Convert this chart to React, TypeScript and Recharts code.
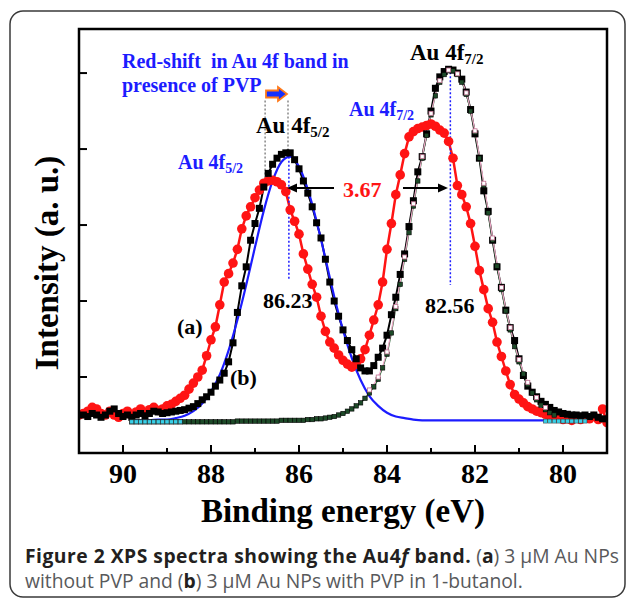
import React from 'react';
import { LineChart, Line, XAxis, YAxis, ReferenceLine } from 'recharts';

// XPS Au 4f spectra, binding energy grid START - i*STEP (eV)
const RED_START = 91.0;
const RED_STEP = 0.1;
// (a) 3 uM Au NPs without PVP
const spectrumA = [
  0.5, 0.52, 0.55, 0.6, 0.58, 0.52, 0.5, 0.55, 0.5, 0.47,
  0.52, 0.55, 0.5, 0.54, 0.58, 0.53, 0.57, 0.6, 0.56, 0.58,
  0.62, 0.64, 0.68, 0.72, 0.76, 0.84, 0.92, 1.0, 1.09, 1.28,
  1.49, 1.66, 1.95, 2.25, 2.36, 2.5, 2.68, 2.95, 3.12, 3.24,
  3.36, 3.46, 3.55, 3.58, 3.59, 3.57, 3.53, 3.44, 3.2, 3.05,
  2.88, 2.62, 2.42, 2.22, 2.05, 1.8, 1.6, 1.46, 1.38, 1.29,
  1.22, 1.17, 1.13, 1.17, 1.24, 1.36, 1.55, 1.75, 1.95, 2.25,
  2.68, 3.02, 3.4, 3.66, 3.94, 4.16, 4.23, 4.27, 4.29, 4.31,
  4.33, 4.3, 4.25, 4.21, 4.1, 3.88, 3.52, 3.4, 3.24, 3.02,
  2.72, 2.4, 2.15, 1.9, 1.72, 1.46, 1.27, 1.08, 0.9, 0.77,
  0.71, 0.66, 0.61, 0.58, 0.55, 0.53, 0.51, 0.49, 0.47, 0.46,
  0.44, 0.45, 0.43, 0.46, 0.44, 0.47, 0.45, 0.48, 0.44, 0.58,
  0.4,
];

const BLACK_START = 90.9;
const BLACK_STEP = 0.1;
// (b) 3 uM Au NPs with PVP
const spectrumB = [
  0.5, 0.48, 0.52, 0.5, 0.47, 0.5, 0.55, 0.58, 0.52, 0.48,
  0.5, 0.47, 0.5, 0.52, 0.49, 0.52, 0.55, 0.54, 0.52, 0.53,
  0.54, 0.55, 0.56, 0.57, 0.59, 0.61, 0.65, 0.7, 0.74, 0.8,
  0.88, 0.96, 1.05, 1.2, 1.45, 1.85, 2.2, 2.45, 2.8, 3.02,
  3.22, 3.5, 3.68, 3.8, 3.88, 3.93, 3.95, 3.95, 3.86, 3.74,
  3.58, 3.42, 3.24, 3.03, 2.83, 2.55, 2.25, 2.0, 1.8, 1.62,
  1.48, 1.36, 1.24, 1.12, 1.08, 1.08, 1.15, 1.26, 1.38, 1.55,
  1.82, 2.05, 2.35, 2.62, 2.98, 3.32, 3.7, 3.9, 4.2, 4.5,
  4.8, 4.95, 5.02, 5.05, 5.04, 5.0, 4.92, 4.75, 4.52, 4.2,
  3.88, 3.45, 3.18, 2.8, 2.45, 2.18, 1.88, 1.65, 1.48, 1.24,
  1.02, 0.88, 0.8, 0.74, 0.68, 0.64, 0.6, 0.56, 0.54, 0.52,
  0.51, 0.5, 0.5, 0.49, 0.5, 0.48, 0.5, 0.47, 0.45,
];

// fitted Au 4f5/2 component
const FIT52_START = 89.8;
const FIT52_STEP = 0.2;
const fit52 = [
  0.43, 0.43, 0.43, 0.44, 0.44, 0.46, 0.49, 0.55, 0.65, 0.81,
  1.03, 1.35, 1.75, 2.21, 2.71, 3.19, 3.58, 3.83, 3.9, 3.77,
  3.47, 3.05, 2.56, 2.06, 1.62, 1.25, 0.96, 0.75, 0.62, 0.53,
  0.48, 0.46, 0.44, 0.43, 0.43, 0.43, 0.43, 0.43, 0.43, 0.43,
  0.43, 0.43, 0.43, 0.43, 0.43, 0.43, 0.43, 0.43,
];

// fitted Au 4f7/2 component
const FIT72_START = 89.8;
const FIT72_STEP = 0.1;
const fit72 = [
  0.41, 0.41, 0.41, 0.41, 0.41, 0.41, 0.41, 0.41, 0.41, 0.41,
  0.41, 0.41, 0.41, 0.41, 0.41, 0.41, 0.41, 0.41, 0.41, 0.41,
  0.41, 0.41, 0.41, 0.41, 0.42, 0.42, 0.42, 0.42, 0.42, 0.42,
  0.42, 0.42, 0.42, 0.42, 0.43, 0.43, 0.43, 0.43, 0.43, 0.43,
  0.44, 0.44, 0.45, 0.45, 0.46, 0.47, 0.48, 0.5, 0.52,
  0.55, 0.58, 0.62, 0.66, 0.72, 0.79, 0.87, 0.97, 1.12, 1.3,
  1.58, 1.9, 2.22, 2.55, 2.9, 3.25, 3.58, 3.88, 4.18, 4.45,
  4.7, 4.88, 4.98, 5.03, 5.03, 4.98, 4.88, 4.72, 4.5, 4.22,
  3.88, 3.52, 3.16, 2.8, 2.46, 2.15, 1.87, 1.62, 1.4, 1.2,
  1.04, 0.9, 0.79, 0.7, 0.63, 0.57, 0.53, 0.5,
];

// envelope over the 4f7/2 peak
const ENV_START = 84.4;
const ENV_STEP = 0.2;
const envelope = [
  0.83, 1.0, 1.33, 1.93, 2.58, 3.28, 3.9, 4.47, 4.9, 5.04,
  4.99, 4.74, 4.24, 3.55, 2.83, 2.18, 1.65, 1.23, 0.93, 0.73,
  0.6,
];

// background ends
const BG_LEFT_START = 89.8;
const bgLeft = [0.41, 0.41, 0.41, 0.41, 0.41, 0.41, 0.41, 0.41, 0.41, 0.41, 0.41, 0.41];
const BG_RIGHT_START = 80.4;
const bgRight = [0.42, 0.42, 0.42, 0.42, 0.42, 0.42, 0.42, 0.42, 0.42, 0.42];
const BG_STEP = 0.1;

const xTicks = [80, 81, 82, 83, 84, 85, 86, 87, 88, 89, 90];
const yTicks = [1, 2, 3, 4, 5];

const toPoints = (start: number, step: number, ys: number[]) =>
  ys.map((y, i) => ({ x: Math.round((start - i * step) * 100) / 100, y }));

const W = 629;
const H = 601;
const PLOT_LEFT = 79;
const PLOT_TOP = 29;
const PLOT_RIGHT = 607;
const PLOT_BOTTOM = 453;
const X_AXIS_H = 40;
const Y_AXIS_W = 20;
const SERIF = '"Liberation Serif", "Times New Roman", serif';
const BLUE = '#1c1cff';

const XTick = (props: any) => {
  const { x, payload } = props;
  const v = payload.value;
  const major = v % 2 === 0;
  return (
    <g>
      <line x1={x} x2={x} y1={PLOT_BOTTOM} y2={PLOT_BOTTOM - (major ? 8 : 5)} stroke="#000" strokeWidth={2} />
      {major && (
        <text x={x} y={483} textAnchor="middle" fontFamily={SERIF} fontWeight="bold" fontSize={28} fill="#000">
          {v}
        </text>
      )}
    </g>
  );
};

const YTick = (props: any) => (
  <line x1={PLOT_LEFT} x2={PLOT_LEFT + 8} y1={props.y} y2={props.y} stroke="#000" strokeWidth={2} />
);

const redDot = (p: any) =>
  p.cy == null ? null : <circle key={`r${p.index}`} cx={p.cx} cy={p.cy} r={4.8} fill="#ff1414" />;
const blackDot = (p: any) =>
  p.cy == null ? null : <rect key={`b${p.index}`} x={p.cx - 3.5} y={p.cy - 3.5} width={7} height={7} fill="#000" />;
const greenDot = (p: any) =>
  p.cy == null ? null : (
    <rect key={`g${p.index}`} x={p.cx - 2.2} y={p.cy - 2.2} width={4.4} height={4.4} fill="#1d4a28" stroke="#000" strokeWidth={0.6} />
  );
const pinkDot = (p: any) =>
  p.cy == null ? null : (
    <rect key={`p${p.index}`} x={p.cx - 2} y={p.cy - 2} width={4} height={4} fill="#fff" stroke="#c07090" strokeWidth={0.8} />
  );
const bgDot = (p: any) =>
  p.cy == null ? null : (
    <rect key={`c${p.index}`} x={p.cx - 2} y={p.cy - 2} width={4} height={4} fill="#38d0e8" stroke="#333" strokeWidth={0.5} />
  );

function Sub({ x, y, size, subSize, color, sub }: any) {
  return (
    <text x={x} y={y} fontFamily={SERIF} fontWeight="bold" fontSize={size} fill={color}>
      Au 4f
      <tspan fontSize={subSize} dy={4}>
        {sub}
      </tspan>
    </text>
  );
}

export default function App() {
  const dataA = toPoints(RED_START, RED_STEP, spectrumA);
  const dataB = toPoints(BLACK_START, BLACK_STEP, spectrumB);
  const data52 = toPoints(FIT52_START, FIT52_STEP, fit52);
  const data72 = toPoints(FIT72_START, FIT72_STEP, fit72);
  const dataEnv = toPoints(ENV_START, ENV_STEP, envelope);
  const dataBgL = toPoints(BG_LEFT_START, BG_STEP, bgLeft);
  const dataBgR = toPoints(BG_RIGHT_START, BG_STEP, bgRight);

  return (
    <div style={{ position: 'absolute', left: 0, top: 0, width: W, height: H, background: '#fff' }}>
      <LineChart
        width={W}
        height={H}
        margin={{
          top: PLOT_TOP,
          right: W - PLOT_RIGHT,
          bottom: H - PLOT_BOTTOM - X_AXIS_H,
          left: PLOT_LEFT - Y_AXIS_W,
        }}
      >
        <XAxis
          type="number"
          dataKey="x"
          domain={[79, 91]}
          reversed
          allowDataOverflow
          ticks={xTicks}
          interval={0}
          height={X_AXIS_H}
          axisLine={false}
          tickLine={false}
          tick={XTick}
        />
        <YAxis
          type="number"
          domain={[0, 5.58]}
          allowDataOverflow
          ticks={yTicks}
          interval={0}
          width={Y_AXIS_W}
          axisLine={false}
          tickLine={false}
          tick={YTick}
        />
        <Line data={dataA} dataKey="y" type="linear" stroke="#ff1414" strokeWidth={2.5} dot={redDot} isAnimationActive={false} />
        <Line data={dataB} dataKey="y" type="linear" stroke="#000" strokeWidth={2} dot={blackDot} isAnimationActive={false} />
        <Line data={data72} dataKey="y" type="monotone" stroke="#2f6e3c" strokeWidth={1.2} dot={greenDot} isAnimationActive={false} />
        <Line data={dataEnv} dataKey="y" type="monotone" stroke="#f0a6c8" strokeWidth={1.2} dot={pinkDot} isAnimationActive={false} />
        <Line data={data52} dataKey="y" type="monotone" stroke={BLUE} strokeWidth={2.2} dot={false} isAnimationActive={false} />
        <Line data={dataBgL} dataKey="y" type="linear" stroke="#f2e21c" strokeWidth={2} strokeDasharray="3 2" dot={bgDot} isAnimationActive={false} />
        <Line data={dataBgR} dataKey="y" type="linear" stroke="#f2e21c" strokeWidth={2} strokeDasharray="3 2" dot={bgDot} isAnimationActive={false} />
        <ReferenceLine segment={[{ x: 86.77, y: 4.64 }, { x: 86.77, y: 3.62 }]} stroke="#888" strokeWidth={1.5} strokeDasharray="2 2" />
        <ReferenceLine segment={[{ x: 86.25, y: 4.64 }, { x: 86.25, y: 3.99 }]} stroke="#888" strokeWidth={1.5} strokeDasharray="2 2" />
        <ReferenceLine segment={[{ x: 86.23, y: 3.95 }, { x: 86.23, y: 2.28 }]} stroke={BLUE} strokeWidth={1.5} strokeDasharray="2 2" />
        <ReferenceLine segment={[{ x: 82.56, y: 5.01 }, { x: 82.56, y: 2.21 }]} stroke={BLUE} strokeWidth={1.5} strokeDasharray="2 2" />
      </LineChart>

      <svg width={W} height={H} style={{ position: 'absolute', left: 0, top: 0, pointerEvents: 'none' }}>
        <rect x={10} y={11} width={615} height={586} rx={13} fill="none" stroke="#3a3a3a" strokeWidth={1.5} />
        <rect
          x={PLOT_LEFT}
          y={PLOT_TOP}
          width={PLOT_RIGHT - PLOT_LEFT}
          height={PLOT_BOTTOM - PLOT_TOP}
          fill="none"
          stroke="#000"
          strokeWidth={2.5}
        />

        <text x={122} y={68} fontFamily={SERIF} fontWeight="bold" fontSize={20} fill={BLUE} style={{ whiteSpace: 'pre' }}>
          {'Red-shift  in Au 4f band in'}
        </text>
        <text x={122} y={92} fontFamily={SERIF} fontWeight="bold" fontSize={20} fill={BLUE}>
          presence of PVP
        </text>
        <polygon
          points="266,90.5 278,90.5 278,87 287,94 278,101 278,97.5 266,97.5"
          fill="#1530ff"
          stroke="#ff7a1a"
          strokeWidth={1.8}
        />

        <Sub x={256} y={133} size={23} subSize={15} color="#000" sub="5/2" />
        <Sub x={178} y={169} size={20} subSize={14} color={BLUE} sub="5/2" />
        <Sub x={410} y={60} size={23} subSize={15} color="#000" sub="7/2" />
        <Sub x={349} y={116} size={20} subSize={14} color={BLUE} sub="7/2" />

        <line x1={334} y1={188} x2={294} y2={188} stroke="#000" strokeWidth={2} />
        <polygon points="287,188 297,183.5 297,192.5" fill="#000" />
        <text x={343} y={197} fontFamily={SERIF} fontWeight="bold" fontSize={22} fill="#ff1414">
          3.67
        </text>
        <line x1={403} y1={188} x2={441} y2={188} stroke="#000" strokeWidth={2} />
        <polygon points="448,188 438,183.5 438,192.5" fill="#000" />

        <text x={263} y={308} fontFamily={SERIF} fontWeight="bold" fontSize={22} fill="#000">
          86.23
        </text>
        <text x={425} y={313} fontFamily={SERIF} fontWeight="bold" fontSize={22} fill="#000">
          82.56
        </text>
        <text x={177} y={334} fontFamily={SERIF} fontWeight="bold" fontSize={22} fill="#000">
          (a)
        </text>
        <text x={230} y={385} fontFamily={SERIF} fontWeight="bold" fontSize={22} fill="#000">
          (b)
        </text>

        <text
          x={58}
          y={263}
          transform="rotate(-90 58 263)"
          textAnchor="middle"
          fontFamily={SERIF}
          fontWeight="bold"
          fontSize={33}
          fill="#000"
        >
          Intensity (a. u.)
        </text>
        <text x={343} y={522} textAnchor="middle" fontFamily={SERIF} fontWeight="bold" fontSize={33} fill="#000">
          Binding energy (eV)
        </text>
      </svg>

      <div
        style={{
          position: 'absolute',
          left: 25,
          top: 543,
          fontFamily: '"Open Sans", sans-serif',
          fontSize: 19.3,
          lineHeight: '25px',
          color: '#58595b',
          whiteSpace: 'nowrap',
        }}
      >
        <span style={{ fontWeight: 'bold', color: '#231f20', letterSpacing: 0.5 }}>
          Figure 2 XPS spectra showing the Au4<i>f</i> band.
        </span>{' '}
        (<b style={{ color: '#231f20' }}>a</b>) 3 µM Au NPs
        <br />
        without PVP and (<b style={{ color: '#231f20' }}>b</b>) 3 µM Au NPs with PVP in 1-butanol.
      </div>
    </div>
  );
}
